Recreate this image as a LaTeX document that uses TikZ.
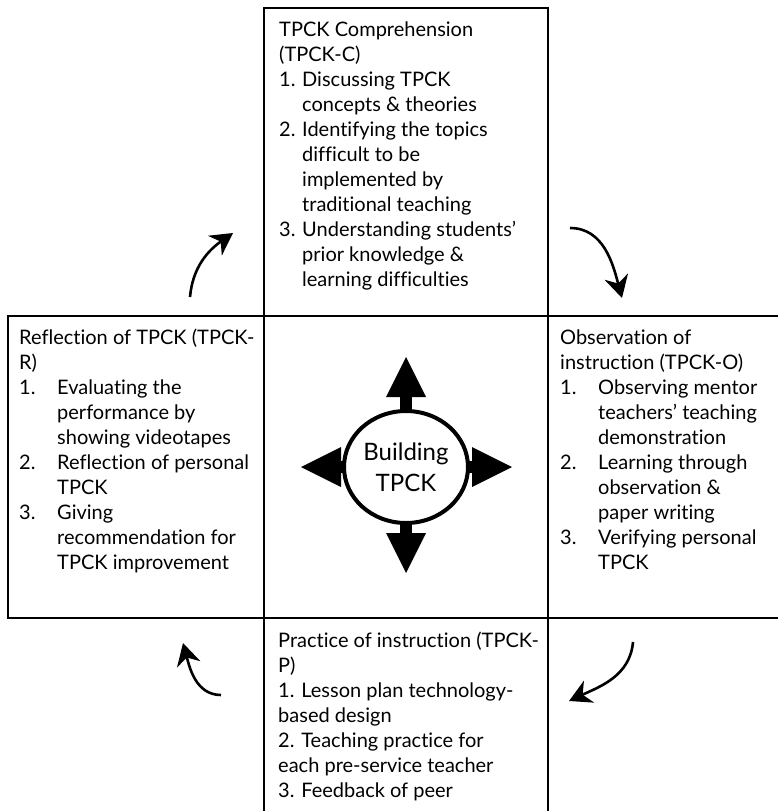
\documentclass[tikz,border=0pt]{standalone}
\usepackage{fontspec}
\setmainfont{Lato}[Ligatures=NoCommon]
\usetikzlibrary{arrows.meta,shapes.geometric,backgrounds,positioning}
\newcommand{\itemno}[2][38pt]{\makebox[#1][l]{#2}}
\newcommand{\itemgap}[1][38pt]{\hspace*{#1}}

\begin{document}
\begin{tikzpicture}[x=1pt,y=-1pt]
    \tikzset{
        panel/.style={draw, line width=2pt, rectangle, inner sep=0pt, outer sep=0pt, anchor=north west},
        panel text/.style={anchor=base west, align=left, inner sep=0pt, font=\fontsize{20}{25}\selectfont},
        hub/.style={draw, ellipse, line width=4pt, fill=white, minimum width=124pt, minimum height=112pt, inner sep=0pt, align=center, font=\fontsize{24}{31}\selectfont},
        spike/.style={line width=12pt, -{Triangle[length=40pt,width=40pt,line width=0pt]}},
        turn/.style={line width=2.6pt, -{Stealth[length=22pt,width=24pt,inset=7pt]}}
    }
    \useasboundingbox (0,0) rectangle (778,811);
    \clip (0,0) rectangle (778,811);
    \node[panel, minimum width=256pt, minimum height=302pt] (refl) at (8,316) {};
    \node[panel, minimum width=284pt, minimum height=302pt] (mid) at (refl.north east) {};
    \node[panel, minimum width=284pt, minimum height=308pt, anchor=south west] (comp) at (mid.north west) {};
    \node[panel, minimum width=260pt, minimum height=302pt] (obs) at (mid.north east) {};
    \node[panel, minimum width=284pt, minimum height=220pt] (prac) at (mid.south west) {};
    \node[panel text] (compText) at ([xshift=15pt,yshift=-278pt]comp.north west) {TPCK Comprehension\\
        (TPCK-C)\\
        \itemno[23pt]{1.}Discussing TPCK\\
        \itemgap[23pt]concepts \& theories\\
        \itemno[23pt]{2.}Identifying the topics\\
        \itemgap[23pt]difficult to be\\
        \itemgap[23pt]implemented by\\
        \itemgap[23pt]traditional teaching\\
        \itemno[23pt]{3.}Understanding students’\\
        \itemgap[23pt]prior knowledge \&\\
        \itemgap[23pt]learning difficulties};
    \node[panel text] (reflText) at ([xshift=11pt,yshift=-253pt]refl.north west) {Reflection of TPCK (TPCK-\\
        R)\\
        \itemno{1.}Evaluating the\\
        \itemgap performance by\\
        \itemgap showing videotapes\\
        \itemno{2.}Reflection of personal\\
        \itemgap TPCK\\
        \itemno{3.}Giving\\
        \itemgap recommendation for\\
        \itemgap TPCK improvement};
    \node[panel text] (obsText) at ([xshift=12pt,yshift=-253pt]obs.north west) {Observation of\\
        instruction (TPCK-O)\\
        \itemno{1.}Observing mentor\\
        \itemgap teachers’ teaching\\
        \itemgap demonstration\\
        \itemno{2.}Learning through\\
        \itemgap observation \&\\
        \itemgap paper writing\\
        \itemno{3.}Verifying personal\\
        \itemgap TPCK};
    \node[panel text] (pracText) at ([xshift=14pt,yshift=-179pt]prac.north west) {Practice of instruction (TPCK-\\
        P)\\
        1. Lesson plan technology-\\
        based design\\
        2. Teaching practice for\\
        each pre-service teacher\\
        3. Feedback of peer};
    \node[hub] (core) at (mid.center) {Building\\TPCK};
    \coordinate (upTip) at ([yshift=110pt]core.center);
    \coordinate (downTip) at ([yshift=-106pt]core.center);
    \coordinate (leftTip) at ([xshift=-105pt]core.center);
    \coordinate (rightTip) at ([xshift=106pt]core.center);
    \begin{scope}[on background layer]
        \draw[spike] (core.center) -- (upTip);
        \draw[spike] (core.center) -- (downTip);
        \draw[spike] (core.center) -- (leftTip);
        \draw[spike] (core.center) -- (rightTip);
    \end{scope}
    \coordinate (rcFrom) at (190,297);
    \coordinate (rcTo) at (233,233);
    \coordinate (coFrom) at (570,228);
    \coordinate (coTo) at (622,298);
    \coordinate (opFrom) at (633,642);
    \coordinate (opTo) at (569,701);
    \coordinate (prFrom) at (221,695);
    \coordinate (prTo) at (183,643);
    \draw[turn] (rcFrom) to[out=85,in=215] (rcTo);
    \draw[turn] (coFrom) to[out=0,in=105] (coTo);
    \draw[turn] (opFrom) to[out=-95,in=25] (opTo);
    \draw[turn] (prFrom) to[out=180,in=-75] (prTo);
\end{tikzpicture}
\end{document}
